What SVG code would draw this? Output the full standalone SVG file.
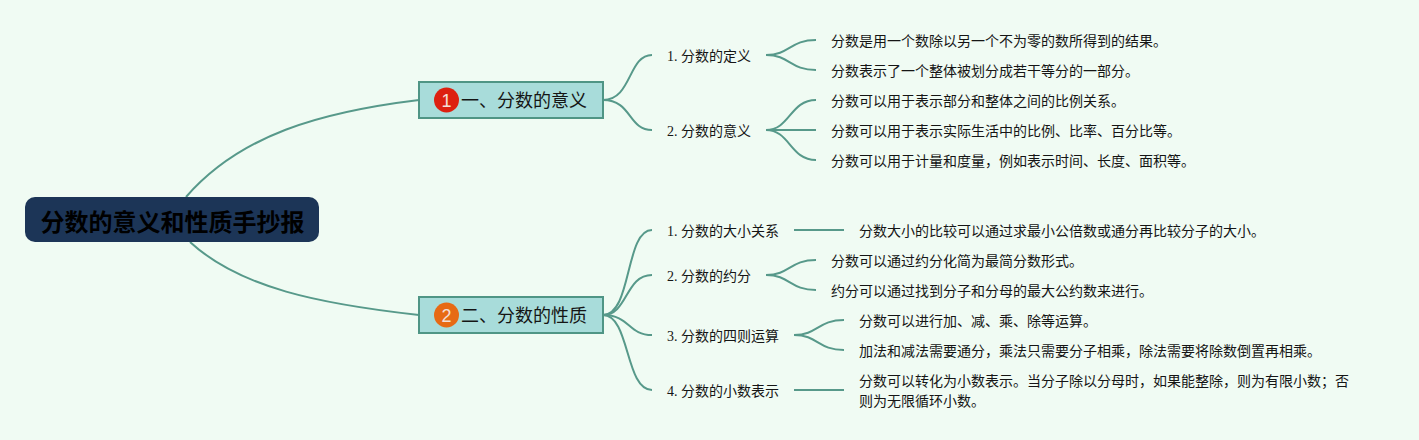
<svg xmlns="http://www.w3.org/2000/svg" width="1419" height="440" viewBox="0 0 1419 440">
<style>
text{font-family:"Noto Sans CJK SC","Liberation Sans",sans-serif;fill:#151515;}
.c{fill:none;stroke:#57998a;stroke-width:2;}
.t{font-size:14px;font-family:"Liberation Serif","Noto Sans CJK SC",serif;}
.s{font-size:14px;}
.b{font-size:18px;}
.box{fill:#a8dcda;stroke:#4f9585;stroke-width:2;}
.num{font-size:18px;fill:#f4e0d8;text-anchor:middle;font-family:"Liberation Sans",sans-serif;}
</style>
<rect width="1419" height="440" fill="#f0fbf3"/>
<g id="connectors">
<path class="c" d="M186 197C240 135 320 112 419 100"/>
<path class="c" d="M190 242C240 288 320 304 419 315"/>
<path class="c" d="M603 100C632 100 628 55 652 55"/>
<path class="c" d="M603 100C632 100 628 130 652 130"/>
<path class="c" d="M603 315C632 315 625 230 652 230"/>
<path class="c" d="M603 315C628 315 625 275 652 275"/>
<path class="c" d="M603 315C630 315 628 335 652 335"/>
<path class="c" d="M603 315C630 315 625 390 652 390"/>
<path class="c" d="M766 55C790 55 790 40 816 40"/>
<path class="c" d="M766 55C790 55 790 70 816 70"/>
<path class="c" d="M766 130C790 130 790 100 816 100"/>
<path class="c" d="M766 130H816"/>
<path class="c" d="M766 130C790 130 790 160 816 160"/>
<path class="c" d="M794 230H844"/>
<path class="c" d="M766 275C790 275 790 260 816 260"/>
<path class="c" d="M766 275C790 275 790 290 816 290"/>
<path class="c" d="M794 335C818 335 818 320 844 320"/>
<path class="c" d="M794 335C818 335 818 350 844 350"/>
<path class="c" d="M794 390H844"/>
</g>
<g id="root">
<rect x="25" y="197" width="294" height="45" rx="10" fill="#1c3557"/>
<text x="172.500" y="231" font-size="24" font-weight="700" text-anchor="middle" style="fill:#000">分数的意义和性质手抄报</text>
</g>
<g id="branch1">
<rect class="box" x="419" y="82" width="184" height="36"/>
<circle cx="446.500" cy="100" r="12.500" fill="#dd2010"/>
<text class="num" x="446.500" y="106.500">1</text>
<text class="b" x="461" y="107">一、分数的意义</text>
</g>
<g id="branch2">
<rect class="box" x="419" y="297" width="184" height="36"/>
<circle cx="446.500" cy="315" r="12.500" fill="#e76a14"/>
<text class="num" x="446.500" y="321.500">2</text>
<text class="b" x="461" y="322">二、分数的性质</text>
</g>
<g id="n1"><text class="t" x="667" y="61">1. 分数的定义</text></g>
<g id="n2"><text class="t" x="667" y="136">2. 分数的意义</text></g>
<g id="n3"><text class="t" x="667" y="236">1. 分数的大小关系</text></g>
<g id="n4"><text class="t" x="667" y="281">2. 分数的约分</text></g>
<g id="n5"><text class="t" x="667" y="341">3. 分数的四则运算</text></g>
<g id="n6"><text class="t" x="667" y="396">4. 分数的小数表示</text></g>
<g id="l1"><text class="s" x="831" y="46">分数是用一个数除以另一个不为零的数所得到的结果。</text></g>
<g id="l2"><text class="s" x="831" y="76">分数表示了一个整体被划分成若干等分的一部分。</text></g>
<g id="l3"><text class="s" x="831" y="106">分数可以用于表示部分和整体之间的比例关系。</text></g>
<g id="l4"><text class="s" x="831" y="136">分数可以用于表示实际生活中的比例、比率、百分比等。</text></g>
<g id="l5"><text class="s" x="831" y="166">分数可以用于计量和度量，例如表示时间、长度、面积等。</text></g>
<g id="l6"><text class="s" x="859" y="236">分数大小的比较可以通过求最小公倍数或通分再比较分子的大小。</text></g>
<g id="l7"><text class="s" x="831" y="266">分数可以通过约分化简为最简分数形式。</text></g>
<g id="l8"><text class="s" x="831" y="296">约分可以通过找到分子和分母的最大公约数来进行。</text></g>
<g id="l9"><text class="s" x="859" y="326">分数可以进行加、减、乘、除等运算。</text></g>
<g id="l10"><text class="s" x="859" y="356">加法和减法需要通分，乘法只需要分子相乘，除法需要将除数倒置再相乘。</text></g>
<g id="l11"><text class="s" x="859" y="386">分数可以转化为小数表示。当分子除以分母时，如果能整除，则为有限小数；否</text><text class="s" x="859" y="406">则为无限循环小数。</text></g>
</svg>
